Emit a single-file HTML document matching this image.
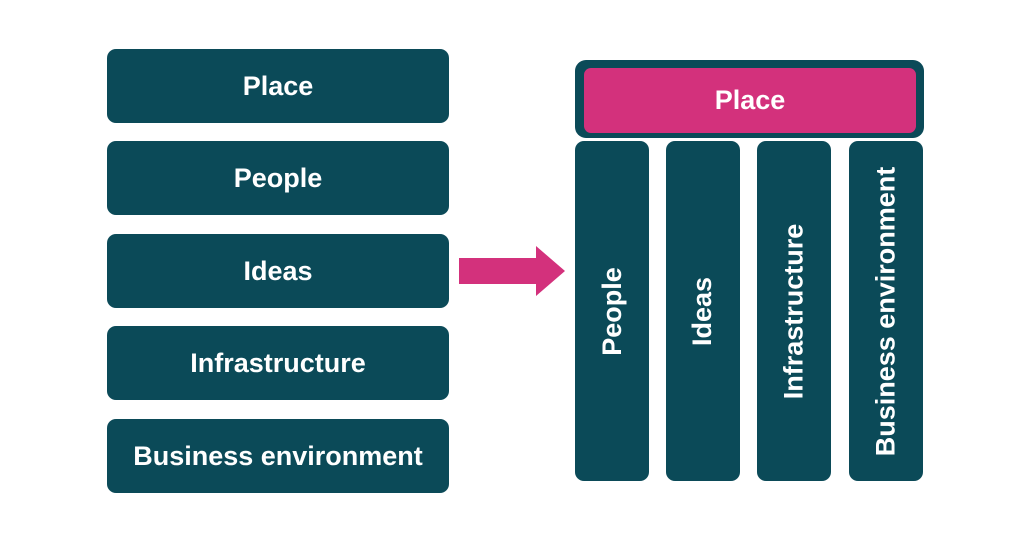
<!DOCTYPE html>
<html><head><style>
body{margin:0;width:1024px;height:550px;background:#fff;position:relative;overflow:hidden;font-family:"Liberation Sans",sans-serif;font-weight:bold;color:#fff}
.b{position:absolute;background:#0b4a58;border-radius:9px;display:flex;align-items:center;justify-content:center;font-size:27px}
.l{left:107px;width:342px;height:74px}
.c{top:141px;width:74px;height:340px}
.v{transform:rotate(-90deg);white-space:nowrap}
</style></head><body>
<div class="b l" style="top:49px">Place</div>
<div class="b l" style="top:141px">People</div>
<div class="b l" style="top:234px">Ideas</div>
<div class="b l" style="top:326px">Infrastructure</div>
<div class="b l" style="top:419px">Business environment</div>
<svg style="position:absolute;left:0;top:0" width="1024" height="550"><polygon points="459,258 536,258 536,246 565,271 536,296 536,284 459,284" fill="#d3317c"/></svg>
<div class="b" style="left:575px;top:60px;width:349px;height:78px;border-radius:11px"></div>
<div class="b" style="left:584px;top:68px;width:332px;height:65px;background:#d3317c;border-radius:7px">Place</div>
<div class="b c" style="left:575px"><span class="v">People</span></div>
<div class="b c" style="left:666px"><span class="v">Ideas</span></div>
<div class="b c" style="left:757px"><span class="v">Infrastructure</span></div>
<div class="b c" style="left:849px"><span class="v">Business environment</span></div>
</body></html>
